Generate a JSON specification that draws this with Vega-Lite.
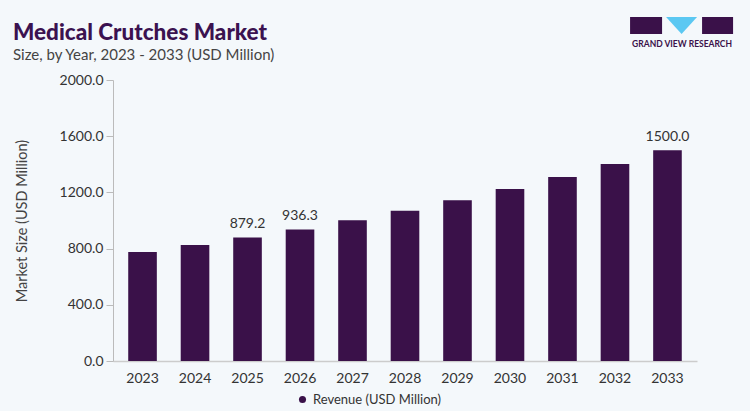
{
  "$schema": "https://vega.github.io/schema/vega-lite/v6.json",
  "width": 584,
  "height": 281,
  "autosize": {"type": "none"},
  "padding": {"left": 113, "top": 80, "right": 53, "bottom": 50},
  "background": "#f4f8fb",
  "title": {
    "text": "Medical Crutches Market",
    "subtitle": "Size, by Year, 2023 - 2033 (USD Million)",
    "anchor": "start",
    "frame": "group",
    "dx": -100,
    "dy": 50,
    "font": "Lato",
    "fontSize": 22.5,
    "fontWeight": 900,
    "color": "#3b1250",
    "subtitleFont": "Lato",
    "subtitleFontSize": 15,
    "subtitleColor": "#444444",
    "subtitlePadding": 4
  },
  "config": {
    "view": {"stroke": null},
    "font": "Lato"
  },
  "layer": [
    {
      "data": {
        "values": [
          {"year": "2023", "revenue": 775.5},
          {"year": "2024", "revenue": 825.6},
          {"year": "2025", "revenue": 879.2},
          {"year": "2026", "revenue": 936.3},
          {"year": "2027", "revenue": 1001.0},
          {"year": "2028", "revenue": 1070.0},
          {"year": "2029", "revenue": 1145.0},
          {"year": "2030", "revenue": 1225.0},
          {"year": "2031", "revenue": 1309.0},
          {"year": "2032", "revenue": 1403.0},
          {"year": "2033", "revenue": 1500.0}
        ]
      },
      "layer": [
        {
          "mark": {"type": "bar"},
          "encoding": {
            "x": {
              "field": "year",
              "type": "nominal",
              "scale": {"paddingInner": 0.455, "paddingOuter": 0.29},
              "axis": {
                "title": null,
                "labelAngle": 0,
                "ticks": false,
                "domainColor": "#cccccc",
                "domainWidth": 1.5,
                "labelFontSize": 14,
                "labelColor": "#333333",
                "labelPadding": 10
              }
            },
            "y": {
              "field": "revenue",
              "type": "quantitative",
              "scale": {"domain": [0, 2000]},
              "axis": {
                "title": "Market Size (USD Million)",
                "titleFontSize": 14.5,
                "titleFontWeight": "normal",
                "titleColor": "#444444",
                "titlePadding": 30,
                "values": [0, 400, 800, 1200, 1600, 2000],
                "format": ".1f",
                "grid": false,
                "domainColor": "#bbbbbb",
                "tickColor": "#bbbbbb",
                "tickSize": 7,
                "labelPadding": 3,
                "labelFontSize": 14,
                "labelColor": "#333333"
              }
            },
            "color": {
              "datum": "Revenue (USD Million)",
              "scale": {"range": ["#3a1149"]},
              "legend": {
                "title": null,
                "orient": "none",
                "legendX": 183,
                "legendY": 313,
                "symbolType": "circle",
                "symbolSize": 50,
                "labelFontSize": 13,
                "labelColor": "#333333"
              }
            }
          }
        },
        {
          "transform": [{"filter": {"field": "year", "oneOf": ["2025", "2026", "2033"]}}],
          "mark": {"type": "text", "baseline": "bottom", "dy": -6, "fontSize": 14, "color": "#333333"},
          "encoding": {
            "x": {"field": "year", "type": "nominal"},
            "y": {"field": "revenue", "type": "quantitative"},
            "text": {"field": "revenue", "type": "quantitative", "format": ".1f"}
          }
        }
      ]
    },
    {
      "data": {"values": [{}]},
      "mark": {
        "type": "point",
        "shape": "M-37.4,-8H-5.4V9H-37.4Z M34.6,-8H65.6V9H34.6Z",
        "size": 4,
        "filled": true,
        "opacity": 1,
        "color": "#3a1149"
      },
      "encoding": {
        "x": {"datum": "2033"},
        "y": {"datum": 2391}
      }
    },
    {
      "data": {"values": [{}]},
      "mark": {
        "type": "point",
        "shape": "M-1.4,-8H29.6L14.1,9Z",
        "size": 4,
        "filled": true,
        "opacity": 1,
        "color": "#5bc8f2"
      },
      "encoding": {
        "x": {"datum": "2033"},
        "y": {"datum": 2391}
      }
    },
    {
      "data": {"values": [{}]},
      "mark": {
        "type": "text",
        "text": "GRAND VIEW RESEARCH",
        "dx": 14.6,
        "fontSize": 8.5,
        "fontWeight": "bold",
        "baseline": "middle",
        "color": "#3a1149"
      },
      "encoding": {
        "x": {"datum": "2033"},
        "y": {"datum": 2256}
      }
    }
  ]
}
